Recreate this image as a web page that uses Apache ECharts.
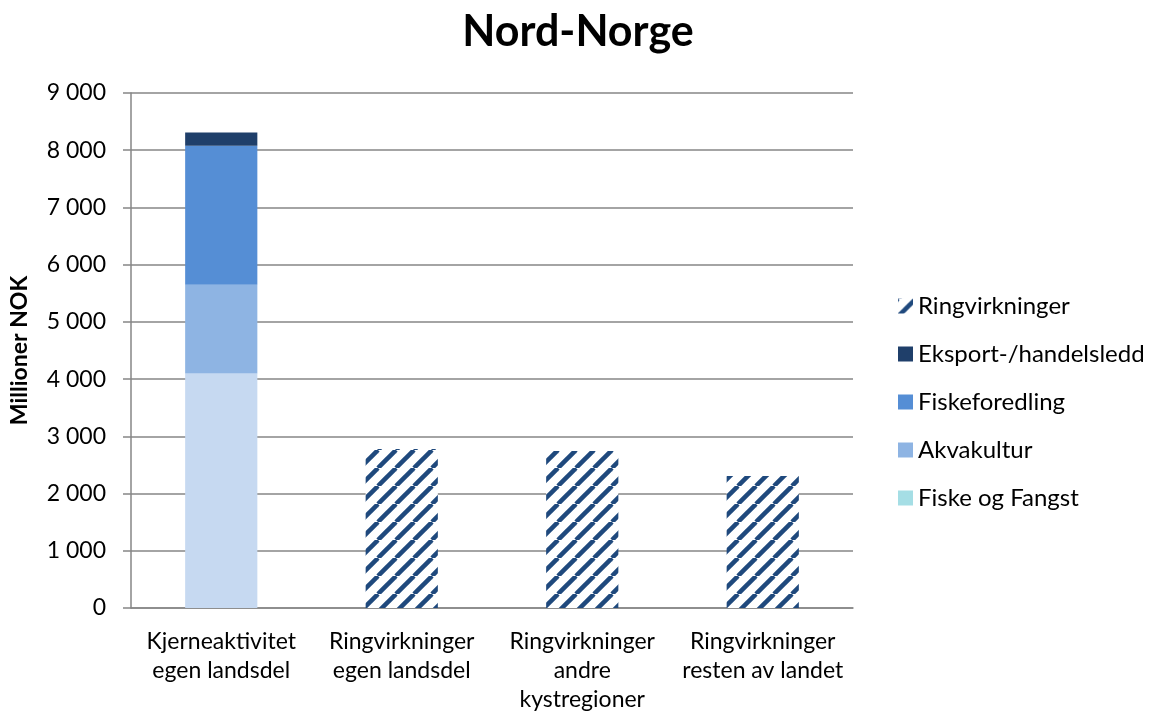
<!DOCTYPE html>
<html>

<head>
    <meta charset="utf-8">
    <script src="https://cdn.jsdelivr.net/npm/echarts@6/dist/echarts.min.js"></script>
</head>

<body style="margin:0">
    <div id="main" style="width:1150px;height:719px;"></div>

    <script>
        // data
        var categories = ['Kjerneaktivitet\negen landsdel', 'Ringvirkninger\negen landsdel',
            'Ringvirkninger\nandre\nkystregioner', 'Ringvirkninger\nresten av landet'];
        var fiskeOgFangst = [4100, null, null, null];
        var akvakultur = [1550, null, null, null];
        var fiskeforedling = [2430, null, null, null];
        var eksport = [230, null, null, null];
        var ringvirkninger = [null, 2780, 2745, 2305];
        var yTicks = { min: 0, max: 9000, interval: 1000 };

        var font = 'Lato, "Open Sans", sans-serif';

        // diagonal stripe pattern for Ringvirkninger
        function stripes() {
            var s = 18;
            var c = document.createElement('canvas');
            c.width = s; c.height = s;
            var ctx = c.getContext('2d');
            ctx.fillStyle = '#fff';
            ctx.fillRect(0, 0, s, s);
            ctx.strokeStyle = '#1F497D';
            ctx.lineWidth = 4.5;
            for (var k = -1; k <= 1; k++) {
                ctx.beginPath();
                ctx.moveTo(k * s, s);
                ctx.lineTo(k * s + s, 0);
                ctx.stroke();
            }
            return c;
        }

        var myChart = echarts.init(document.getElementById('main'));

        function bar(name, data, color, dataColor) {
            return {
                name: name,
                type: 'bar',
                stack: 'total',
                barWidth: '40%',
                itemStyle: { color: color },
                data: data.map(function (v) {
                    if (dataColor && v != null) {
                        return { value: v, itemStyle: { color: dataColor } };
                    }
                    return v;
                })
            };
        }

        var option = {
            animation: false,
            backgroundColor: '#fff',
            textStyle: { fontFamily: font },
            title: {
                text: 'Nord-Norge',
                left: 573,
                textAlign: 'center',
                top: 6,
                textStyle: { fontFamily: font, fontSize: 43, fontWeight: 'bold', color: '#000' }
            },
            legend: {
                orient: 'vertical',
                left: 893,
                top: 289,
                itemWidth: 15,
                itemHeight: 15,
                itemGap: 24,
                icon: 'rect',
                textStyle: { fontFamily: font, fontSize: 24, color: '#000' },
                data: ['Ringvirkninger', 'Eksport-/handelsledd', 'Fiskeforedling', 'Akvakultur', 'Fiske og Fangst']
            },
            grid: { left: 128, right: 297, top: 93, bottom: 111 },
            xAxis: {
                type: 'category',
                data: categories,
                axisLine: { lineStyle: { color: '#868686', width: 1.5 } },
                axisTick: { length: 7, lineStyle: { color: '#868686', width: 1.5 } },
                axisLabel: {
                    interval: 0, margin: 19, fontSize: 23, lineHeight: 29, color: '#000', fontFamily: font
                }
            },
            yAxis: {
                type: 'value',
                min: yTicks.min,
                max: yTicks.max,
                interval: yTicks.interval,
                name: 'Millioner NOK',
                nameLocation: 'middle',
                nameGap: 100,
                nameTextStyle: { fontFamily: font, fontSize: 23, fontWeight: 'bold', color: '#000' },
                axisLine: { show: true, lineStyle: { color: '#868686', width: 1.5 } },
                axisTick: { show: true, length: 8, lineStyle: { color: '#868686', width: 1.5 } },
                splitLine: { lineStyle: { color: '#868686', width: 1.5 } },
                axisLabel: {
                    margin: 25, fontSize: 23, color: '#000', fontFamily: font,
                    formatter: function (v) {
                        return String(v).replace(/\B(?=(\d{3})+(?!\d))/g, ' ');
                    }
                }
            },
            series: [
                bar('Fiske og Fangst', fiskeOgFangst, '#A5DEE5', '#C6D9F1'),
                bar('Akvakultur', akvakultur, '#8EB4E3'),
                bar('Fiskeforedling', fiskeforedling, '#558ED5'),
                bar('Eksport-/handelsledd', eksport, '#1F3F6A'),
                bar('Ringvirkninger', ringvirkninger, { image: stripes(), repeat: 'repeat' })
            ]
        };

        myChart.setOption(option);
    </script>
</body>

</html>
